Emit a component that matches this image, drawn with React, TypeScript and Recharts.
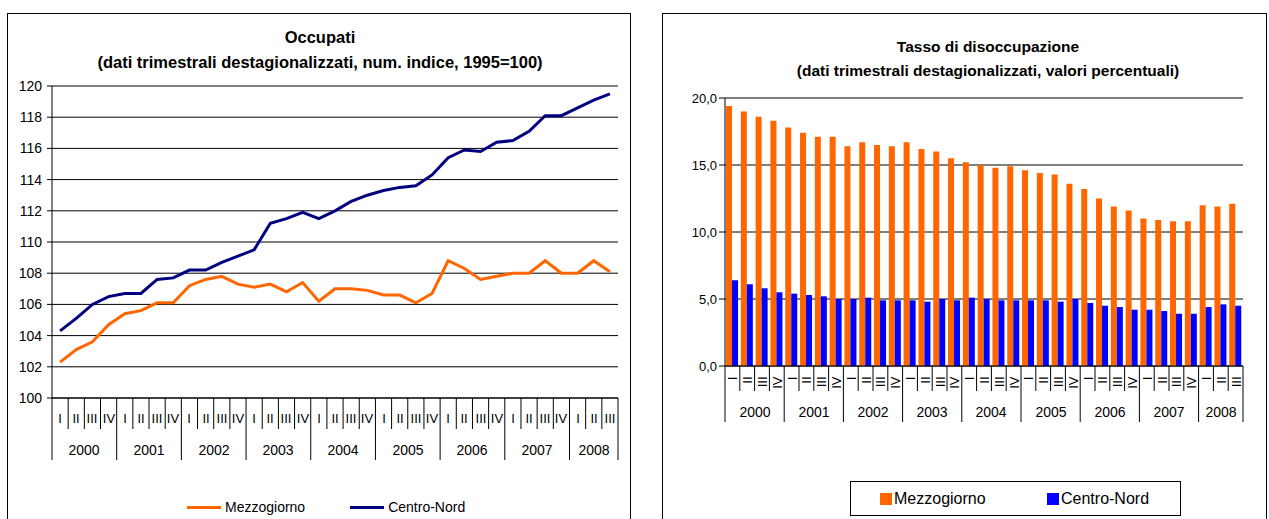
import React from "react";
import {
  LineChart,
  Line,
  BarChart,
  Bar,
  XAxis,
  YAxis,
  CartesianGrid,
  Legend,
} from "recharts";

const FONT = '"Liberation Sans", Arial, sans-serif';

// categories
const years = [2000, 2001, 2002, 2003, 2004, 2005, 2006, 2007, 2008];
const quartersPerYear = [4, 4, 4, 4, 4, 4, 4, 4, 3];
const quarterLabels = ["I", "II", "III", "IV"];
const seriesNames = ["Mezzogiorno", "Centro-Nord"];

// Occupati (num. indice, 1995=100)
const occupatiMezzogiorno = [
  102.3, 103.1, 103.6, 104.7, 105.4, 105.6, 106.1, 106.1, 107.2, 107.6, 107.8,
  107.3, 107.1, 107.3, 106.8, 107.4, 106.2, 107.0, 107.0, 106.9, 106.6, 106.6,
  106.1, 106.7, 108.8, 108.3, 107.6, 107.8, 108.0, 108.0, 108.8, 108.0, 108.0,
  108.8, 108.1,
];
const occupatiCentroNord = [
  104.3, 105.1, 106.0, 106.5, 106.7, 106.7, 107.6, 107.7, 108.2, 108.2, 108.7,
  109.1, 109.5, 111.2, 111.5, 111.9, 111.5, 112.0, 112.6, 113.0, 113.3, 113.5,
  113.6, 114.3, 115.4, 115.9, 115.8, 116.4, 116.5, 117.1, 118.1, 118.1, 118.6,
  119.1, 119.5,
];

// Tasso di disoccupazione (%)
const disoccMezzogiorno = [
  19.4, 19.0, 18.6, 18.3, 17.8, 17.4, 17.1, 17.1, 16.4, 16.7, 16.5, 16.4, 16.7,
  16.2, 16.0, 15.5, 15.2, 15.0, 14.8, 14.9, 14.6, 14.4, 14.3, 13.6, 13.2, 12.5,
  11.9, 11.6, 11.0, 10.9, 10.8, 10.8, 12.0, 11.9, 12.1,
];
const disoccCentroNord = [
  6.4, 6.1, 5.8, 5.5, 5.4, 5.3, 5.2, 5.0, 5.0, 5.1, 4.9, 4.9, 4.9, 4.8, 5.0, 4.9,
  5.1, 5.0, 4.9, 4.9, 4.9, 4.9, 4.8, 5.0, 4.7, 4.5, 4.4, 4.2, 4.2, 4.1, 3.9, 3.9,
  4.4, 4.6, 4.5,
];

const occTicks = [100, 102, 104, 106, 108, 110, 112, 114, 116, 118, 120];
const disTicks = [0, 5, 10, 15, 20];

type Period = { key: string; year: number; q: string; qi: number; n: number };
const periods: Period[] = [];
years.forEach((year, yi) => {
  const n = quartersPerYear[yi];
  for (let qi = 0; qi < n; qi++) {
    periods.push({ key: `${year}-${quarterLabels[qi]}`, year, q: quarterLabels[qi], qi, n });
  }
});

const occData = periods.map((p, i) => ({
  period: p.key,
  mz: occupatiMezzogiorno[i],
  cn: occupatiCentroNord[i],
}));
const disData = periods.map((p, i) => ({
  period: p.key,
  mz: disoccMezzogiorno[i],
  cn: disoccCentroNord[i],
}));

// layout
const L_W = 640;
const L_H = 519;
const L_MARGIN = { top: 86, right: 22, left: 0, bottom: 59 };
const L_YW = 52;
const L_BAND = (L_W - L_MARGIN.left - L_MARGIN.right - L_YW) / periods.length;

const R_W = 629;
const R_H = 519;
const R_MARGIN = { top: 98, right: 26, left: 0, bottom: 97 };
const R_YW = 85;
const R_BAND = (R_W - R_MARGIN.left - R_MARGIN.right - R_YW) / periods.length;

type TickCfg = {
  band: number;
  qLen: number;
  yearLen: number;
  qDy: number;
  yDy: number;
  qSize: number;
  ySize: number;
  rotate: boolean;
};

// two-level category axis: quarter row + year row with separators
const periodTick = (cfg: TickCfg) => (props: any) => {
  const { x, y } = props;
  const index = props.payload?.index ?? props.index;
  const p = periods[index];
  if (!p) return <g />;
  const left = x - cfg.band / 2;
  const isLast = index === periods.length - 1;
  const tx = Math.round(x);
  return (
    <g>
      <line x1={left} x2={left} y1={y} y2={y + (p.qi === 0 ? cfg.yearLen : cfg.qLen)} stroke="#000" />
      {isLast && (
        <line x1={left + cfg.band} x2={left + cfg.band} y1={y} y2={y + cfg.yearLen} stroke="#000" />
      )}
      {cfg.rotate ? (
        <text
          transform={`translate(${tx},${y + cfg.qDy}) rotate(-90)`}
          textAnchor="end"
          dominantBaseline="central"
          fontSize={cfg.qSize}
          fontFamily={FONT}
          fill="#000"
        >
          {p.q}
        </text>
      ) : (
        <text x={tx} y={Math.round(y + cfg.qDy)} textAnchor="middle" fontSize={cfg.qSize} fontFamily={FONT} fill="#000">
          {p.q}
        </text>
      )}
      {p.qi === 0 && (
        <text
          x={Math.round(left + (cfg.band * p.n) / 2)}
          y={Math.round(y + cfg.yDy)}
          textAnchor="middle"
          fontSize={cfg.ySize}
          fontFamily={FONT}
          fill="#000"
        >
          {p.year}
        </text>
      )}
    </g>
  );
};

const ordered = (payload: any[] | undefined) =>
  [...(payload || [])].sort((a, b) => seriesNames.indexOf(a.value) - seriesNames.indexOf(b.value));

const LineLegend = ({ payload }: any) => (
  <div style={{ display: "flex", alignItems: "center", fontFamily: FONT, fontSize: 14, color: "#000", lineHeight: "16px" }}>
    {ordered(payload).map((e: any, i: number) => (
      <div key={e.value} style={{ display: "flex", alignItems: "center", marginLeft: i ? 45 : 0 }}>
        <span style={{ display: "inline-block", width: 34, height: 3, background: e.color, marginRight: 4 }} />
        <span>{e.value}</span>
      </div>
    ))}
  </div>
);

const BarLegend = ({ payload }: any) => (
  <div
    style={{
      boxSizing: "border-box",
      width: 331,
      height: 35,
      border: "1px solid #000",
      display: "flex",
      alignItems: "center",
      paddingLeft: 29,
      fontFamily: FONT,
      fontSize: 16,
      color: "#000",
      background: "#fff",
    }}
  >
    {ordered(payload).map((e: any, i: number) => (
      <div key={e.value} style={{ display: "flex", alignItems: "center", width: i === 0 ? 167 : undefined }}>
        <span style={{ display: "inline-block", width: 12, height: 12, background: e.color, marginRight: 2 }} />
        <span>{e.value}</span>
      </div>
    ))}
  </div>
);

const fmtComma = (v: number) => v.toFixed(1).replace(".", ",");

export default function App() {
  return (
    <div
      style={{
        position: "absolute",
        left: 0,
        top: 0,
        width: 1269,
        height: 519,
        overflow: "hidden",
        background: "#fff",
        fontFamily: FONT,
      }}
    >
      {/* panel frames */}
      <div style={{ position: "absolute", left: 7, top: 12.5, width: 624, height: 600, border: "1.5px solid #000", boxSizing: "border-box" }} />
      <div style={{ position: "absolute", left: 662, top: 12.5, width: 605, height: 600, border: "1.5px solid #000", boxSizing: "border-box" }} />

      {/* left chart */}
      <div style={{ position: "absolute", left: 0, top: 0 }}>
        <LineChart width={L_W} height={L_H} data={occData} margin={L_MARGIN}>
          <CartesianGrid stroke="#000" vertical={false} />
          <XAxis
            dataKey="period"
            interval={0}
            height={62}
            padding={{ left: L_BAND / 2, right: L_BAND / 2 }}
            axisLine={{ stroke: "#000" }}
            tickLine={false}
            tickSize={0}
            tickMargin={0}
            tick={periodTick({ band: L_BAND, qLen: 31, yearLen: 62, qDy: 25, yDy: 57, qSize: 13, ySize: 14, rotate: false })}
          />
          <YAxis
            type="number"
            domain={[100, 120]}
            ticks={occTicks}
            interval={0}
            width={L_YW}
            axisLine={{ stroke: "#000" }}
            tickLine={{ stroke: "#000" }}
            tickSize={5}
            tickMargin={5}
            tick={{ fill: "#000", fontSize: 14, fontFamily: FONT }}
          />
          <YAxis
            yAxisId="r"
            orientation="right"
            domain={[100, 120]}
            width={0}
            tick={false}
            tickLine={false}
            axisLine={{ stroke: "#000" }}
          />
          <Legend
            layout="horizontal"
            verticalAlign="middle"
            align="center"
            wrapperStyle={{ left: 187, top: 499, width: 320, height: 16 }}
            content={<LineLegend />}
          />
          <Line name="Mezzogiorno" dataKey="mz" stroke="#FF6600" strokeWidth={3} dot={false} isAnimationActive={false} />
          <Line name="Centro-Nord" dataKey="cn" stroke="#000080" strokeWidth={3} dot={false} isAnimationActive={false} />
        </LineChart>
      </div>
      <div
        style={{
          position: "absolute",
          left: 8,
          top: 24.5,
          width: 624,
          textAlign: "center",
          fontWeight: "bold",
          fontSize: 16.5,
          lineHeight: "25px",
          color: "#000",
        }}
      >
        <div>Occupati</div>
        <div>(dati trimestrali destagionalizzati, num. indice, 1995=100)</div>
      </div>

      {/* right chart */}
      <div style={{ position: "absolute", left: 640, top: 0 }}>
        <BarChart width={R_W} height={R_H} data={disData} margin={R_MARGIN} barCategoryGap="7%" barGap={0}>
          <CartesianGrid stroke="#000" vertical={false} />
          <XAxis
            dataKey="period"
            interval={0}
            height={56}
            axisLine={{ stroke: "#000" }}
            tickLine={false}
            tickSize={0}
            tickMargin={0}
            tick={periodTick({ band: R_BAND, qLen: 25, yearLen: 56, qDy: 10.5, yDy: 51, qSize: 13, ySize: 14, rotate: true })}
          />
          <YAxis
            type="number"
            domain={[0, 20]}
            ticks={disTicks}
            interval={0}
            width={R_YW}
            axisLine={{ stroke: "#000" }}
            tickLine={{ stroke: "#000" }}
            tickSize={6}
            tickMargin={2}
            tickFormatter={fmtComma}
            tick={{ fill: "#000", fontSize: 13, fontFamily: FONT }}
          />
          <YAxis
            yAxisId="r"
            orientation="right"
            domain={[0, 20]}
            width={0}
            tick={false}
            tickLine={false}
            axisLine={{ stroke: "#000" }}
          />
          <Legend
            layout="horizontal"
            verticalAlign="middle"
            align="center"
            wrapperStyle={{ left: 210, top: 481, width: 331, height: 35 }}
            content={<BarLegend />}
          />
          <Bar name="Mezzogiorno" dataKey="mz" fill="#FF6600" isAnimationActive={false} />
          <Bar name="Centro-Nord" dataKey="cn" fill="#0000FF" isAnimationActive={false} />
        </BarChart>
      </div>
      <div
        style={{
          position: "absolute",
          left: 788,
          top: 35,
          width: 400,
          textAlign: "center",
          fontWeight: "bold",
          fontSize: 15.5,
          lineHeight: "24px",
          color: "#000",
        }}
      >
        <div>Tasso di disoccupazione</div>
        <div>(dati trimestrali destagionalizzati, valori percentuali)</div>
      </div>
    </div>
  );
}
